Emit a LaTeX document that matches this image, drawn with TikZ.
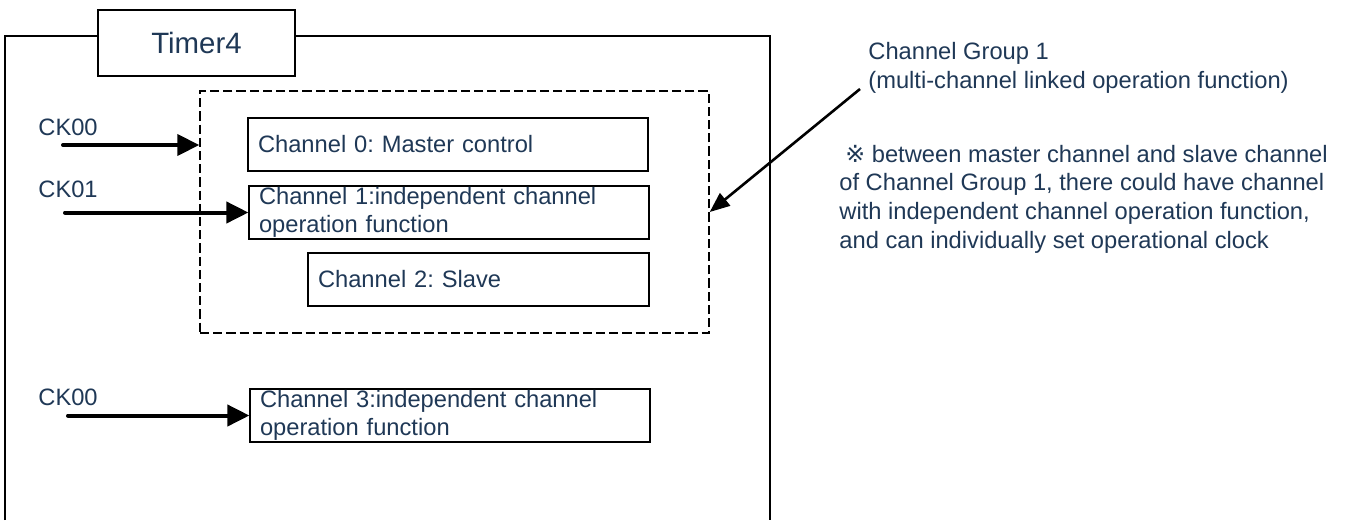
\documentclass[tikz,border=0pt]{standalone}
\usepackage{fontspec}
\setmainfont{Liberation Sans}
\newfontfamily\marksym{DejaVu Sans}
\usetikzlibrary{arrows.meta}
\definecolor{labelblue}{RGB}{31,56,86}
\newcommand{\chfont}{\fontsize{11.85pt}{14.3pt}\selectfont\frenchspacing}

\begin{document}
\begin{tikzpicture}[x=0.5pt,y=-0.5pt]
    \tikzset{
        chbox/.style={draw, line width=0.6pt, minimum height=26.5pt, inner xsep=5pt, inner ysep=0pt,
            text width=190pt, align=left, text=labelblue, font=\chfont},
        timerbox/.style={draw, fill=white, line width=0.9pt, minimum width=98.5pt, minimum height=33pt,
            inner sep=0pt, text=labelblue, font=\fontsize{14.7pt}{17pt}\selectfont},
        grpbox/.style={draw, dash pattern=on 4.6pt off 2pt, line width=0.7pt,
            minimum width=254.5pt, minimum height=121pt, inner sep=0pt},
        cklabel/.style={anchor=base west, inner sep=0pt, text=labelblue, font=\chfont},
        notetext/.style={anchor=base west, inner sep=0pt, align=left, text=labelblue, font=\chfont},
        clk/.style={-{Triangle[length=11pt,width=10.5pt]}, line width=2pt, line cap=round},
        ptr/.style={-{Triangle[length=10pt,width=8pt]}, line width=1.3pt}
    }
    \useasboundingbox (0,0) rectangle (1352,520);

    % Timer4 frame, open at the bottom
    \draw[line width=0.6pt] (5,520) -- (5,36) -- (770,36) -- (770,520);
    \draw node[timerbox] (timer) at (196.5,43) {Timer4};

    % channel group 1
    \draw node[grpbox] (grp) at (454.5,212) {};
    \draw node[chbox] (ch0) at (448,144.5) {Channel 0: Master control};
    \draw node[chbox] (ch1) at (449,212.5) {Channel 1:independent channel\\operation function};
    \draw node[chbox, text width=160.5pt] (ch2) at (478.5,279.5) {Channel 2: Slave};
    \draw node[chbox] (ch3) at (450,415.5) {Channel 3:independent channel\\operation function};

    % clock inputs
    \draw node[cklabel] (ck0) at (38,135) {CK00};
    \draw node[cklabel] (ck1) at (38,197) {CK01};
    \draw node[cklabel] (ck3) at (38,405) {CK00};
    \coordinate (ck0s) at (63,145);
    \coordinate (ck1s) at (65,212.5);
    \coordinate (ck3s) at (68,415.5);
    \coordinate (ck0e) at (ck0s -| grp.west);
    \foreach \x/\y in {%
        ck0s/ck0e, ck1s/ch1.west, ck3s/ch3.west%
    }{
    \draw[clk] (\x) -- (\y);
    }

    % notes on the right (base = last line)
    \draw node[notetext] (grplabel) at (868,88) {Channel Group 1\\(multi-channel linked operation function)};
    \coordinate (grps) at (860,89);
    \draw[ptr] (grps) -- (grp.east);
    \draw node[notetext] (note) at (839,248) {\hspace*{3pt}{\marksym ※} between master channel and slave channel\\of Channel Group 1, there could have channel\\with independent channel operation function,\\and can individually set operational clock};
\end{tikzpicture}
\end{document}
